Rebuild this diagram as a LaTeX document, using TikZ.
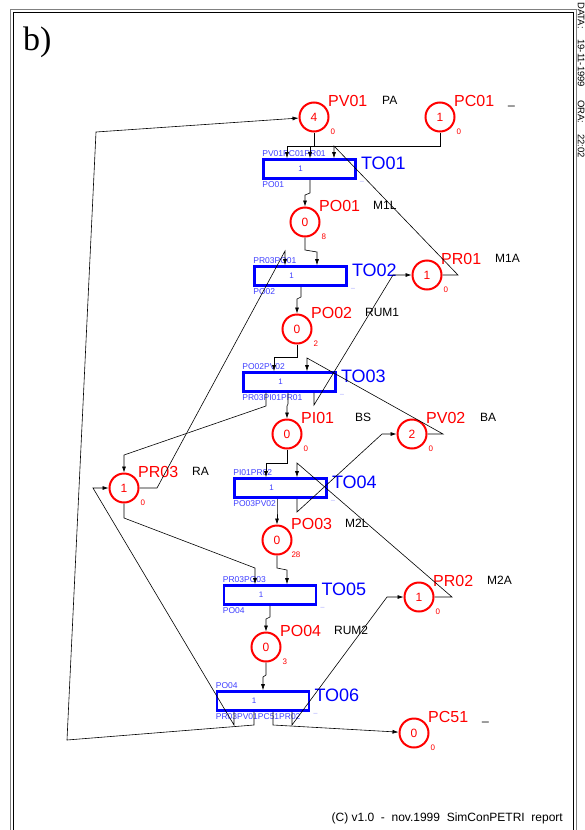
\documentclass[tikz,border=0pt]{standalone}
\usepackage{fontspec}
\setmainfont{Liberation Sans}
\newfontfamily\serifb{Liberation Serif}
\usetikzlibrary{arrows.meta}

\begin{document}
\begin{tikzpicture}[x=1pt,y=-1pt,
    >={Latex[length=6pt,width=4pt]},
    place/.style={circle,draw=red,line width=2pt,minimum size=29pt,inner sep=0pt,
      text=red,font=\fontsize{12}{12}\selectfont},
    pname/.style={anchor=west,inner sep=0pt,xshift=3pt,yshift=5pt,text=red,
      font=\fontsize{16}{16}\selectfont},
    pmark/.style={anchor=center,inner sep=0pt,xshift=8pt,yshift=-4pt,text=red,
      font=\fontsize{8}{8}\selectfont},
    pdesc/.style={anchor=west,inner sep=0pt,xshift=57pt,yshift=5pt,text height=9pt,
      text depth=2.5pt,font=\fontsize{12}{12}\selectfont},
    trans/.style={rectangle,draw=blue,line width=2.6pt,minimum width=92pt,
      minimum height=19pt,inner sep=0pt,label={[tnum]center:1},label={[tmark]south east:\_}},
    tname/.style={anchor=west,inner sep=0pt,xshift=4pt,yshift=6pt,text=blue,
      font=\fontsize{18}{18}\selectfont},
    tin/.style={anchor=south west,inner sep=0pt,yshift=1pt,text=blue!75,
      font=\fontsize{8.5}{8.5}\selectfont},
    tout/.style={anchor=north west,inner sep=0pt,yshift=-1.5pt,text=blue!75,
      font=\fontsize{8.5}{8.5}\selectfont},
    tnum/.style={inner sep=0pt,xshift=-9pt,text=blue!75,font=\fontsize{8}{8}\selectfont},
    tmark/.style={anchor=north west,inner sep=0pt,xshift=3pt,text=blue!40,
      font=\fontsize{7}{7}\selectfont},
    arc/.style={->,line width=0.6pt}]
  \useasboundingbox (0,0) rectangle (585,830);
  % sheet frame
  \draw[gray,line width=1pt] (10,830) -- (10,9) -- (576,9) -- (576,830);
  \draw[line width=0.8pt] (13,830) -- (13,12) -- (573,12) -- (573,830);
  \node[anchor=base west,inner sep=0pt,font=\serifb\fontsize{34}{34}\selectfont] (tag) at (23,50) {b)};
  \node[rotate=-90,anchor=south west,inner sep=0pt,font=\fontsize{9.5}{9.5}\selectfont] (date)
    at (577.5,2) {DATA:\ \ \ \ 19-11-1999\ \ \ \ \ ORA:\ \ \ \ 22:02};
  \node[anchor=east,inner sep=0pt,font=\fontsize{12}{12}\selectfont] (foot)
    at (563,818) {(C)\ v1.0\ \ -\ \ nov.1999\ \ SimConPETRI\ \ report};
  % places
  \node[place,label={[pname]north east:PV01},label={[pmark]south east:0},label={[pdesc]north east:PA}] (pv01) at (314,117) {4};
  \node[place,label={[pname]north east:PC01},label={[pmark]south east:0},label={[pdesc]north east:\_}] (pc01) at (440,117) {1};
  \node[place,label={[pname]north east:PO01},label={[pmark]south east:8},label={[pdesc]north east:M1L}] (po01) at (305,222) {0};
  \node[place,label={[pname]north east:PR01},label={[pmark]south east:0},label={[pdesc]north east:M1A}] (pr01) at (427,275) {1};
  \node[place,label={[pname]north east:PO02},label={[pmark]south east:2},label={[pdesc]north east:RUM1}] (po02) at (297,329) {0};
  \node[place,label={[pname]north east:PI01},label={[pmark]south east:0},label={[pdesc]north east:BS}] (pi01) at (287,434) {0};
  \node[place,label={[pname]north east:PV02},label={[pmark]south east:0},label={[pdesc]north east:BA}] (pv02) at (412,434) {2};
  \node[place,label={[pname]north east:PR03},label={[pmark]south east:0},label={[pdesc]north east:RA}] (pr03) at (124,488) {1};
  \node[place,label={[pname]north east:PO03},label={[pmark]south east:28},label={[pdesc]north east:M2L}] (po03) at (277,540) {0};
  \node[place,label={[pname]north east:PR02},label={[pmark]south east:0},label={[pdesc]north east:M2A}] (pr02) at (419,597) {1};
  \node[place,label={[pname]north east:PO04},label={[pmark]south east:3},label={[pdesc]north east:RUM2}] (po04) at (266,647) {0};
  \node[place,label={[pname]north east:PC51},label={[pmark]south east:0},label={[pdesc]north east:\_}] (pc51) at (414,733) {0};
  % transitions
  \node[trans,label={[tname]east:TO01},label={[tin]north west:PV01PC01PR01},label={[tout]south west:PO01}] (to01) at (309.5,169) {};
  \node[trans,label={[tname]east:TO02},label={[tin]north west:PR03PO01},label={[tout]south west:PO02}] (to02) at (300.5,276) {};
  \node[trans,label={[tname]east:TO03},label={[tin]north west:PO02PV02},label={[tout]south west:PR03PI01PR01}] (to03) at (289.5,382) {};
  \node[trans,label={[tname]east:TO04},label={[tin]north west:PI01PR02},label={[tout]south west:PO03PV02}] (to04) at (280.5,488) {};
  \node[trans,label={[tname]east:TO05},label={[tin]north west:PR03PO03},label={[tout]south west:PO04}] (to05) at (270,595) {};
  \node[trans,label={[tname]east:TO06},label={[tin]north west:PO04},label={[tout]south west:PR03PV01PC51PR02}] (to06) at (263,701) {};
  % arcs into transitions
  \draw[arc] (pv01.south) -- (314,146) -- (287,146) -- (287,146 |- to01.north);
  \draw[arc] (pc01.south) -- (440,146) -- (310,146) -- (310,146 |- to01.north);
  \draw[arc] (pr01.east) -- (458,275) -- (334,146) -- (334,146 |- to01.north);
  \draw[arc] (po01.south) -- (305,250) -- (317,252) -- (317,252 |- to02.north);
  \draw[arc] (pr03.east) -- (157,488) -- (285,251) -- (285,251 |- to02.north);
  \draw[arc] (po02.south) -- (297,357) -- (274,357) -- (274,357 |- to03.north);
  \draw[arc] (pv02.east) -- (443,434) -- (307,358) -- (307,358 |- to03.north);
  \draw[arc] (pi01.south) -- (287,463) -- (266,463) -- (266,463 |- to04.north);
  \draw[arc] (pr02.east) -- (452,597) -- (297,463) -- (297,463 |- to04.north);
  \draw[arc] (po03.south) -- (277,568) -- (287,570) -- (287,570 |- to05.north);
  \draw[arc] (pr03.south) -- (124,518) -- (255,568) -- (255,568 |- to05.north);
  \draw[arc] (po04.south) -- (266,675) -- (263,677) -- (263,677 |- to06.north);
  % arcs out of transitions
  \draw[arc] (310,0 |- to01.south) -- (310,193) -- (305,195) -- (po01);
  \draw[arc] (301,0 |- to02.south) -- (301,297) -- (297,299) -- (po02);
  \draw[arc] (266,0 |- to03.south) -- (266,406) -- (124,455) -- (pr03);
  \draw[arc] (288,0 |- to03.south) -- (288,404) -- (287,406) -- (pi01);
  \draw[arc] (314,0 |- to03.south) -- (314,405) -- (393,275) -- (pr01);
  \draw[arc] (277,0 |- to04.south) -- (277,510) -- (po03);
  \draw[arc] (297,0 |- to04.south) -- (297,512) -- (382,434) -- (pv02);
  \draw[arc] (270,0 |- to05.south) -- (270,617) -- (266,619) -- (po04);
  \draw[arc] (234,0 |- to06.south) -- (234,725) -- (93,488) -- (pr03);
  \draw[arc] (254,0 |- to06.south) -- (254,725) -- (67,740) -- (96,132) -- (pv01);
  \draw[arc] (273,0 |- to06.south) -- (273,725) -- (pc51);
  \draw[arc] (292,0 |- to06.south) -- (292,725) -- (387,597) -- (pr02);
\end{tikzpicture}
\end{document}
